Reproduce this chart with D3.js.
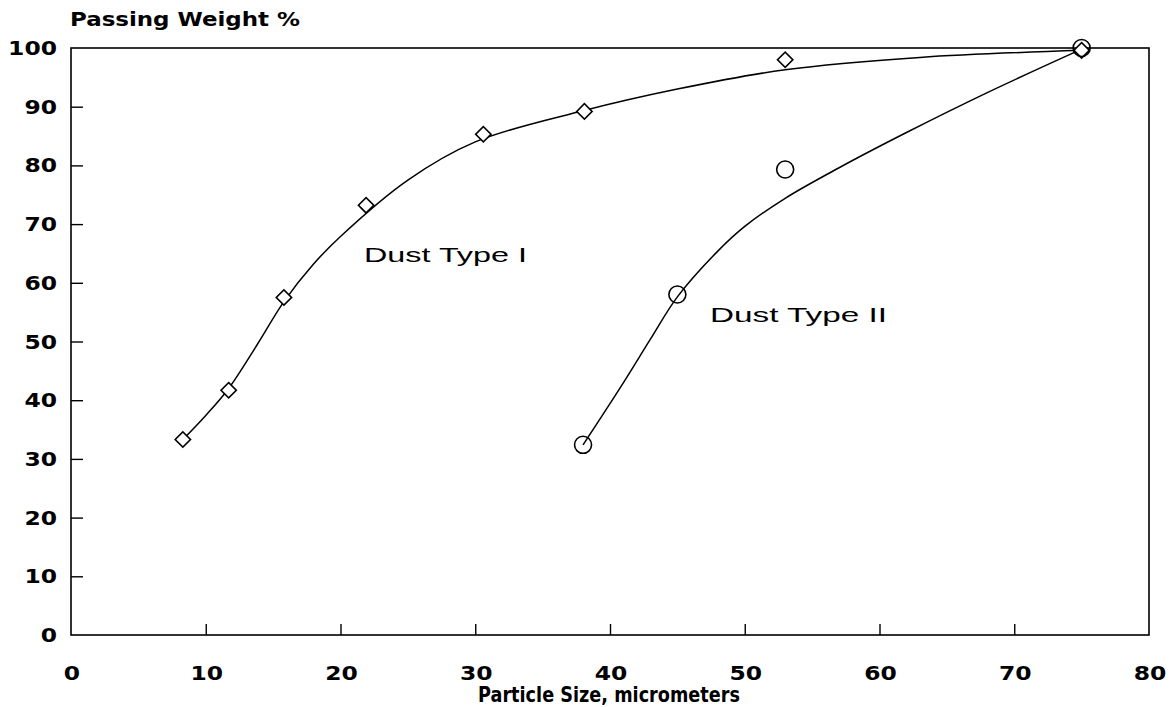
<!DOCTYPE html>
<html>
<head>
<meta charset="utf-8">
<script src="https://d3js.org/d3.v7.min.js"></script>
<style>
  body { margin: 0; background: #fff; }
  svg { display: block; }
  .tick-label { font-family: "DejaVu Sans", sans-serif; font-weight: bold; font-size: 19px; }
  .note { font-family: "Liberation Sans", Arial, sans-serif; font-size: 20px; }
</style>
</head>
<body>
<svg width="1171" height="707"></svg>
<script>
// measured points
var dust1X = [8.3, 11.7, 15.8, 21.9, 30.6, 38.1, 53.0, 75.0];
var dust1Y = [33.3, 41.7, 57.5, 73.2, 85.3, 89.2, 98.0, 99.6];
var dust2X = [38.0, 45.0, 53.0, 75.0];
var dust2Y = [32.4, 58.0, 79.3, 100];

// fitted curves as drawn in the figure
var curve1X = [8.3, 10.0, 11.7, 13.8, 15.8, 18.0, 20.0, 25.0, 30.0, 38.0, 45.0, 53.0, 63.0, 75.0];
var curve1Y = [33.3, 37.4, 42.0, 49.4, 56.8, 63.2, 67.9, 77.5, 84.0, 89.3, 93.0, 96.3, 98.4, 99.6];
var curve2X = [38.0, 41.0, 43.0, 45.0, 48.0, 50.0, 53.0, 57.0, 62.0, 68.0, 75.0];
var curve2Y = [32.4, 43.0, 50.4, 57.6, 65.4, 69.6, 74.4, 79.6, 85.6, 92.4, 99.8];

var xTicks = [0, 10, 20, 30, 40, 50, 60, 70, 80];
var yTicks = [0, 10, 20, 30, 40, 50, 60, 70, 80, 90, 100];

function draw() {
  var svg = d3.select("svg");
  var pl = 71, pr = 1149, pt = 48, pb = 635;

  var x = d3.scaleLinear().domain([0, 80]).range([pl, pr]);
  var y = d3.scaleLinear().domain([0, 100]).range([pb, pt]);

  // frame
  svg.append("rect")
    .attr("x", pl).attr("y", pt)
    .attr("width", pr - pl).attr("height", pb - pt)
    .attr("fill", "none").attr("stroke", "#000").attr("stroke-width", 1.6);

  // inward ticks
  var yaxis = d3.axisRight(y).tickValues(yTicks.slice(1, -1)).tickSize(12).tickFormat("");
  svg.append("g").attr("transform", "translate(" + pl + ",0)").call(yaxis)
    .call(function(g) { g.select(".domain").remove(); })
    .selectAll("line").attr("stroke-width", 1.4);

  var xaxis = d3.axisTop(x).tickValues(xTicks.slice(1, -1)).tickSize(11).tickFormat("");
  svg.append("g").attr("transform", "translate(0," + pb + ")").call(xaxis)
    .call(function(g) { g.select(".domain").remove(); })
    .selectAll("line").attr("stroke-width", 1.4);

  // tick labels
  svg.selectAll(".ylab").data(yTicks).enter().append("text")
    .attr("class", "tick-label")
    .attr("x", 57).attr("y", function(d) { return y(d) + 7; })
    .attr("text-anchor", "end")
    .attr("textLength", function(d) { return String(d).length * 16.3; })
    .attr("lengthAdjust", "spacingAndGlyphs")
    .text(function(d) { return d; });

  svg.selectAll(".xlab").data(xTicks).enter().append("text")
    .attr("class", "tick-label")
    .attr("x", function(d) { return x(d) + 1; }).attr("y", 680)
    .attr("text-anchor", "middle")
    .attr("textLength", function(d) { return String(d).length * 16.3; })
    .attr("lengthAdjust", "spacingAndGlyphs")
    .text(function(d) { return d; });

  // titles
  svg.append("text").attr("class", "tick-label")
    .attr("x", 70).attr("y", 26)
    .attr("textLength", 230).attr("lengthAdjust", "spacingAndGlyphs")
    .style("font-size", "19.5px")
    .text("Passing Weight %");

  svg.append("text").attr("class", "tick-label")
    .attr("x", 478).attr("y", 702)
    .attr("textLength", 262).attr("lengthAdjust", "spacingAndGlyphs")
    .style("font-size", "21px")
    .text("Particle Size, micrometers");

  // curves
  var line = d3.line()
    .x(function(d) { return x(d[0]); })
    .y(function(d) { return y(d[1]); })
    .curve(d3.curveCatmullRom.alpha(0.5));

  svg.append("path").datum(d3.zip(curve1X, curve1Y))
    .attr("d", line).attr("fill", "none").attr("stroke", "#000").attr("stroke-width", 1.5);
  svg.append("path").datum(d3.zip(curve2X, curve2Y))
    .attr("d", line).attr("fill", "none").attr("stroke", "#000").attr("stroke-width", 1.5);

  // markers
  var diamond = d3.symbol().type(d3.symbolSquare).size(118);
  svg.selectAll(".d1").data(d3.zip(dust1X, dust1Y)).enter().append("path")
    .attr("d", diamond)
    .attr("transform", function(d) { return "translate(" + x(d[0]) + "," + y(d[1]) + ") rotate(45)"; })
    .attr("fill", "#fff").attr("stroke", "#000").attr("stroke-width", 1.6);

  svg.selectAll(".d2").data(d3.zip(dust2X, dust2Y)).enter().append("circle")
    .attr("cx", function(d) { return x(d[0]); })
    .attr("cy", function(d) { return y(d[1]); })
    .attr("r", 8.5)
    .attr("fill", "none").attr("stroke", "#000").attr("stroke-width", 1.6);

  // labels
  svg.append("text").attr("class", "note")
    .attr("x", 364).attr("y", 262)
    .attr("textLength", 163).attr("lengthAdjust", "spacingAndGlyphs")
    .text("Dust Type I");
  svg.append("text").attr("class", "note")
    .attr("x", 710).attr("y", 322)
    .attr("textLength", 177).attr("lengthAdjust", "spacingAndGlyphs")
    .text("Dust Type II");
}
draw();
</script>
</body>
</html>
